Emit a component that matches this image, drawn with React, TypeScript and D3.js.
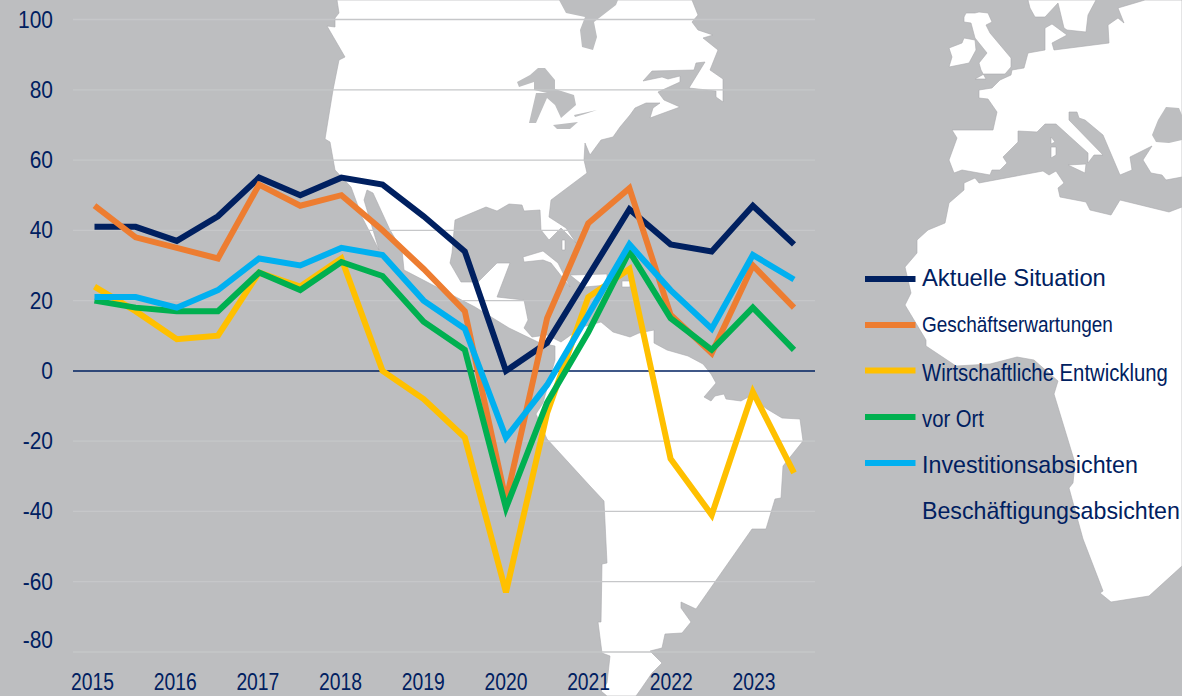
import React from "react";
import * as d3 from "d3";

const WIDTH = 1182;
const HEIGHT = 696;

const years = ["2015", "2016", "2017", "2018", "2019", "2020", "2021", "2022", "2023"];
const yTicks = [100, 80, 60, 40, 20, 0, -20, -40, -60, -80];
const aktuelleSituation = [41, 41, 37, 44, 55, 50, 55, 53, 44, 34, 0, 8, 27, 46, 36, 34, 47, 36];
const geschaeftserwartungen = [47, 38, 35, 32, 53, 47, 50, 40, 29, 17, -37, 15, 42, 52, 16, 5, 30, 18];
const wirtschaftlicheEntwicklung = [24, 17, 9, 10, 28, 24, 32, 0, -8, -19, -63, -12, 21, 29, -25, -41, -6, -29];
const vorOrt = [20, 18, 17, 17, 28, 23, 31, 27, 14, 6, -39, -9, 11, 34, 15, 6, 18, 6];
const investitionsabsichten = [21, 21, 18, 23, 32, 30, 35, 33, 20, 12, -19, -4, 16, 36, 23, 12, 33, 26];

const seriesNames = [
  "Aktuelle Situation",
  "Geschäftserwartungen",
  "Wirtschaftliche Entwicklung",
  "vor Ort",
  "Investitionsabsichten",
  "Beschäftigungsabsichten",
];
const seriesColors = ["#002060", "#ED7D31", "#FFC000", "#00B050", "#00B0F0", "none"];
const seriesValues = [
  aktuelleSituation,
  geschaeftserwartungen,
  wirtschaftlicheEntwicklung,
  vorOrt,
  investitionsabsichten,
  [] as number[],
];
const legendTextWidths = [184, 191, 246, 62, 216, 258];
const legendSizes = [23, 22, 24, 24, 24, 24];
const legendRowY = [279, 325, 370.5, 417, 463];
const legendBaselines = [286, 332, 381, 427, 473, 519];

type Pt = [number, number];

const americas: Pt[] = [
  [337, 0], [339, 13], [335, 18], [335, 27], [327, 26], [345, 57], [339, 60], [333, 90], [325, 139], [330, 142], [335, 170],
  [351, 187], [362, 217], [379, 250], [364, 200], [367, 190], [373, 193], [390, 230], [402, 250], [404, 270],
  [475, 307], [509, 328], [540, 343], [555, 346], [555, 360], [543, 403], [536, 414], [547, 439], [590, 486], [604, 501],
  [607, 563], [602, 564], [601, 622], [598, 622], [602, 653], [610, 656], [607, 683], [601, 691], [607, 696],
  [636, 696], [641, 689], [652, 673], [662, 663], [650, 651], [662, 648], [665, 634], [682, 633], [691, 622],
  [681, 608], [681, 602], [696, 609], [752, 529], [766, 529], [775, 499], [781, 498], [783, 466], [803, 441], [800, 419],
  [782, 418], [767, 409], [756, 401], [750, 396], [741, 401], [726, 399], [724, 394], [715, 396], [711, 401], [704, 397],
  [716, 383], [711, 374], [703, 364], [688, 356], [667, 350], [654, 343], [654, 330], [639, 333], [630, 337], [613, 332],
  [601, 322], [582, 327], [561, 342], [547, 335], [532, 337], [524, 328], [528, 320], [524, 300], [497, 297], [510, 263],
  [497, 263], [478, 282], [461, 282], [450, 263], [452, 253], [455, 220], [486, 207], [497, 211], [509, 204], [522, 205],
  [524, 211], [540, 210], [541, 230], [549, 240], [561, 228], [576, 243], [566, 228], [549, 217], [551, 200], [587, 173],
  [584, 160], [585, 143], [590, 155], [601, 140], [613, 137], [620, 127], [630, 115], [635, 108], [646, 103], [660, 103],
  [653, 108], [650, 118], [680, 107], [664, 100], [658, 92], [680, 82], [680, 76], [668, 79], [662, 77], [643, 81],
  [652, 71], [694, 70], [696, 63], [705, 62], [689, 88], [716, 91], [716, 97], [723, 102], [723, 79], [710, 70], [718, 50],
  [703, 38], [713, 35], [698, 30], [692, 22], [698, 15], [692, 0],
];
const africa: Pt[] = [
  [975, 178], [964, 183], [964, 190], [949, 203], [945, 223], [928, 230], [917, 240], [917, 253], [905, 267], [911, 293],
  [905, 305], [926, 340], [926, 346], [956, 366], [990, 364], [1017, 357], [1034, 360], [1058, 381], [1054, 394], [1075, 463],
  [1073, 483], [1069, 488], [1083, 539], [1103, 591], [1100, 593], [1111, 602], [1149, 596], [1182, 566], [1182, 207],
  [1169, 212], [1120, 200], [1111, 215], [1090, 210], [1086, 202], [1060, 197], [1058, 188], [1064, 183], [1056, 171],
  [1049, 175], [1043, 171], [979, 183],
];
const europe: Pt[] = [
  [979, 90], [979, 98], [988, 99], [997, 112], [993, 130], [952, 130], [957, 138], [949, 160], [954, 173], [962, 170], [990, 175],
  [992, 170], [1000, 170], [1007, 163], [1003, 157], [1018, 142], [1018, 131], [1037, 132], [1045, 124], [1056, 124], [1088, 153],
  [1088, 163], [1094, 155], [1103, 155], [1069, 120], [1069, 112], [1077, 112], [1079, 118], [1085, 120], [1103, 135], [1120, 175],
  [1132, 170], [1130, 157], [1152, 146], [1143, 160], [1151, 173], [1162, 175], [1166, 180], [1182, 177], [1182, 0], [1145, 0],
  [1118, 8], [1124, 23], [1118, 18], [1108, 25], [1109, 43], [1054, 50], [1052, 43], [1067, 35], [1052, 24], [1045, 28], [1045, 50],
  [1028, 53], [1024, 68], [1012, 70], [1011, 75], [1000, 80], [992, 88],
];
const scandinavia: Pt[] = [[1028, 0], [1030, 8], [1035, 17], [1045, 17], [1058, 3], [1064, 28], [1067, 30], [1086, 32], [1088, 15], [1096, 0]];
const britain: Pt[] = [
  [964, 17], [966, 13], [975, 13], [979, 12], [988, 13], [992, 22], [986, 25], [990, 33], [1011, 58], [1011, 67], [1005, 74], [984, 74],
  [975, 79], [986, 79], [981, 70], [979, 63], [987, 53], [975, 38], [971, 23], [964, 22],
];
const ireland: Pt[] = [[949, 48], [962, 43], [964, 38], [975, 40], [976, 50], [969, 63], [949, 67], [952, 57]];
const sicily: Pt[] = [[1068, 165], [1086, 164], [1085, 173]];
const corsica: Pt[] = [[1051, 137], [1055, 142], [1051, 144]];
const sardinia: Pt[] = [[1051, 147], [1056, 147], [1056, 155], [1051, 158]];
const cuba: Pt[] = [[523, 257], [543, 251], [558, 263], [570, 287], [551, 263], [543, 260], [524, 262]];
const bahamas: Pt[] = [[562, 240], [565, 240], [565, 250], [562, 250]];
const hispaniola: Pt[] = [[570, 275], [607, 274], [607, 285], [585, 287]];
const puertoRico: Pt[] = [[622, 281], [630, 281], [630, 287], [622, 287]];
const whiteLand = [americas, africa, europe, scandinavia, britain, ireland, sicily, corsica, sardinia, cuba, bahamas, hispaniola, puertoRico];

const hudsonBay: Pt[] = [[559, 0], [566, 13], [585, 17], [580, 30], [582, 47], [593, 50], [597, 37], [594, 22], [616, 5], [618, 0]];
const lakeSuperiorMichiganHuron: Pt[] = [
  [517, 82], [530, 75], [538, 68], [545, 68], [555, 80], [555, 89], [574, 95], [576, 105], [561, 118], [555, 105], [547, 98], [536, 123],
  [529, 123], [536, 93], [547, 93], [534, 90], [534, 82], [519, 87],
];
const lakeErie: Pt[] = [[574, 115], [597, 110], [585, 114], [575, 117]];
const lakeOntario: Pt[] = [[553, 125], [578, 122], [570, 129], [557, 129]];
const blackSea: Pt[] = [[1166, 107], [1179, 108], [1182, 115], [1182, 140], [1169, 143], [1156, 142], [1152, 135], [1158, 120]];
const grayWater = [hudsonBay, lakeSuperiorMichiganHuron, lakeErie, lakeOntario, blackSea];

const x = d3.scaleLinear().domain([0, 17]).range([94.5, 794]);
const xLabel = d3.scaleLinear().domain([2015, 2023]).range([92.5, 754]);
const y = d3.scaleLinear().domain([-80, 100]).range([652, 19.5]);
const seriesLine = d3
  .line<number>()
  .x((_, i) => x(i))
  .y((d) => y(d));
const polygon = d3.line<Pt>();

const TEXT = "#002060";
const FONT = "'Liberation Sans', Arial, sans-serif";
const TICK_SIZE = 23;
const tickWidth = (t: number) => {
  const s = String(t);
  const digits = s.replace("-", "").length;
  return (digits * 0.556 + (t < 0 ? 0.333 : 0)) * TICK_SIZE * 0.91;
};

const measureContext = document.createElement("canvas").getContext("2d");
const legendScaleX = (name: string, size: number, target: number) => {
  if (!measureContext) return 1;
  measureContext.font = `${size}px 'Liberation Sans'`;
  return target / measureContext.measureText(name).width;
};

export default function App() {
  return (
    <svg
      width={WIDTH}
      height={HEIGHT}
      viewBox={`0 0 ${WIDTH} ${HEIGHT}`}
      style={{ position: "absolute", left: 0, top: 0, display: "block" }}
      fontFamily={FONT}
    >
      <rect width={WIDTH} height={HEIGHT} fill="#BDBEC0" />
      {whiteLand.map((p, i) => (
        <path key={i} d={polygon(p) + "Z"} fill="#FFFFFF" stroke="#A9AAAC" strokeWidth={0.6} />
      ))}
      {grayWater.map((p, i) => (
        <path key={i} d={polygon(p) + "Z"} fill="#BDBEC0" />
      ))}

      {yTicks
        .filter((t) => t !== 0)
        .map((t) => (
          <line key={t} x1={73} x2={815} y1={y(t)} y2={y(t)} stroke="#C6C7C9" strokeWidth={1.3} />
        ))}
      <line x1={73} x2={815} y1={y(0)} y2={y(0)} stroke="#002060" strokeWidth={1.5} />

      {yTicks.map((t) => (
        <text
          key={t}
          x={53}
          y={y(t) + (t === -80 ? -12.3 : 0) + 8}
          textAnchor="end"
          fontSize={TICK_SIZE}
          fill={TEXT}
          textLength={tickWidth(t)}
          lengthAdjust="spacingAndGlyphs"
        >
          {t}
        </text>
      ))}
      {years.map((l) => (
        <text
          key={l}
          x={xLabel(+l)}
          y={690.3}
          textAnchor="middle"
          fontSize={TICK_SIZE}
          fill={TEXT}
          textLength={43}
          lengthAdjust="spacingAndGlyphs"
        >
          {l}
        </text>
      ))}

      {seriesValues.map((v, i) =>
        v.length ? (
          <path
            key={seriesNames[i]}
            d={seriesLine(v) ?? ""}
            fill="none"
            stroke={seriesColors[i]}
            strokeWidth={6}
            strokeLinejoin="miter"
            strokeMiterlimit={4}
          />
        ) : null
      )}

      {seriesNames.map((name, i) => (
        <g key={name}>
          {seriesColors[i] !== "none" && (
            <line x1={865} x2={915.5} y1={legendRowY[i]} y2={legendRowY[i]} stroke={seriesColors[i]} strokeWidth={6} />
          )}
          <text
            transform={`translate(922,${legendBaselines[i]}) scale(${legendScaleX(name, legendSizes[i], legendTextWidths[i])},1)`}
            fontSize={legendSizes[i]}
            fill={TEXT}
          >
            {name}
          </text>
        </g>
      ))}
    </svg>
  );
}
